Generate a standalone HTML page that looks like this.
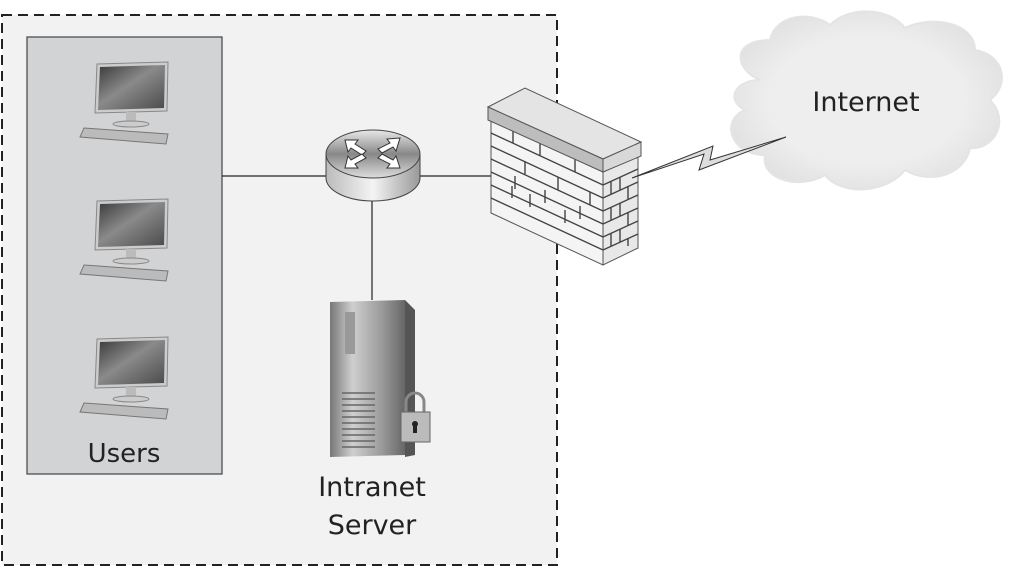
<!DOCTYPE html>
<html><head><meta charset="utf-8"><style>
body{margin:0;background:#fff}
svg{display:block}
text{font-family:"DejaVu Sans","Liberation Sans",sans-serif;fill:#222}
</style></head><body>
<svg width="1023" height="568" viewBox="0 0 1023 568" xmlns="http://www.w3.org/2000/svg">
<defs>
<linearGradient id="scr" x1="0" y1="0" x2="1" y2="1"><stop offset="0" stop-color="#3a3a3a"/><stop offset="0.45" stop-color="#8a8a8a"/><stop offset="1" stop-color="#4a4a4a"/></linearGradient>
<linearGradient id="rt" x1="0" y1="0" x2="1" y2="0"><stop offset="0" stop-color="#bbb"/><stop offset="0.5" stop-color="#f4f4f4"/><stop offset="1" stop-color="#999"/></linearGradient>
<linearGradient id="rtop" x1="0" y1="0" x2="0" y2="1"><stop offset="0" stop-color="#e8e8e8"/><stop offset="0.5" stop-color="#888"/><stop offset="1" stop-color="#ddd"/></linearGradient>
<linearGradient id="srv" x1="0" y1="0" x2="1" y2="0"><stop offset="0" stop-color="#777"/><stop offset="0.3" stop-color="#cfcfcf"/><stop offset="0.7" stop-color="#999"/><stop offset="1" stop-color="#666"/></linearGradient>
<radialGradient id="cl" cx="0.5" cy="0.5" r="0.6"><stop offset="0.6" stop-color="#eee"/><stop offset="1" stop-color="#ddd"/></radialGradient>
<g id="pc">
<polygon points="97,64 168,62 167,111 95,113" fill="#ccc" stroke="#888"/>
<polygon points="100,67 165,65 164,108 98,110" fill="url(#scr)"/>
<rect x="126" y="112" width="10" height="11" fill="#bbb"/>
<ellipse cx="131" cy="124" rx="18" ry="3" fill="#ccc" stroke="#888"/>
<polygon points="84,128 168,134 166,144 80,137" fill="#bbb" stroke="#777"/>
</g>
</defs>
<rect x="2" y="15" width="555" height="550" fill="#f2f2f3" stroke="#222" stroke-width="2" stroke-dasharray="10,6"/>
<rect x="27" y="37" width="195" height="437" fill="#d2d3d5" stroke="#444" stroke-width="1.2"/>
<use href="#pc"/>
<use href="#pc" y="137"/>
<use href="#pc" y="275"/>
<text x="124" y="462" font-size="26" text-anchor="middle">Users</text>
<line x1="222" y1="176" x2="330" y2="176" stroke="#222" stroke-width="1.2"/>
<line x1="418" y1="176" x2="492" y2="176" stroke="#222" stroke-width="1.2"/>
<line x1="372" y1="200" x2="372" y2="300" stroke="#222" stroke-width="1.2"/>
<!-- router -->
<path d="M326,155 L326,178 A47,23 0 0 0 420,178 L420,155 Z" fill="url(#rt)" stroke="#444"/>
<ellipse cx="373" cy="154" rx="47" ry="24" fill="url(#rtop)" stroke="#444"/>
<g fill="#fff" stroke="#333" stroke-width="1">
<polygon points="345,140 358,140 355,144 366,151 362,155 351,148 348,152"/>
<polygon points="400,138 387,139 390,143 378,149 382,153 393,147 396,151"/>
<polygon points="345,168 358,168 355,164 366,158 362,154 351,160 348,156"/>
<polygon points="400,168 387,168 390,164 378,158 382,154 393,160 396,156"/>
</g>
<!-- firewall -->
<polygon points="491,120 603,172 603,265 491,213" fill="#f4f4f4" stroke="#555"/>
<polygon points="603,172 638,156 638,248 603,265" fill="#e8e8e8" stroke="#555"/>
<g stroke="#444" stroke-width="1.4" fill="none">
<path d="M491,133 L603,185 M491,146 L603,198 M491,159 L603,211 M491,172 L603,224 M491,185 L603,237 M491,198 L603,250"/>
<path d="M603,185 L638,169 M603,198 L638,182 M603,211 L638,195 M603,224 L638,208 M603,237 L638,221 M603,250 L638,234"/>
<path d="M513,130 v13 M540,143 v13 M575,159 v13 M525,161 v13 M558,177 v13 M590,192 v13 M515,176 v13 M545,190 v13 M580,206 v13 M530,194 v13 M565,210 v13 M512,186 v12 M620,177 v13 M620,203 v13 M620,229 v13 M611,181 v13 M628,186 v13 M611,207 v13 M628,212 v13 M611,233 v13 M628,238 v8"/>
</g>
<polygon points="488,107 525,88 641,142 603,159" fill="#e4e4e4" stroke="#555"/>
<polygon points="488,107 603,159 603,172 488,120" fill="#bdbdbd" stroke="#555"/>
<polygon points="603,159 641,142 641,156 603,172" fill="#d8d8d8" stroke="#555"/>
<!-- server -->
<polygon points="330,302 405,300 405,455 330,457" fill="url(#srv)"/>
<polygon points="405,300 415,310 415,455 405,457" fill="#555"/>
<rect x="345" y="312" width="10" height="42" fill="#999"/>
<g stroke="#666" stroke-width="1.5"><path d="M342,393 H375 M342,399 H375 M342,405 H375 M342,411 H375 M342,417 H375 M342,423 H375 M342,429 H375 M342,435 H375 M342,441 H375 M342,447 H375"/></g>
<path d="M406,412 v-10 a9,9 0 0 1 18,0 v10" fill="none" stroke="#888" stroke-width="3"/>
<rect x="401" y="412" width="29" height="30" fill="#bbb" stroke="#666"/>
<circle cx="415" cy="424" r="3" fill="#222"/><rect x="413" y="425" width="4" height="8" fill="#222"/>
<text x="372" y="496" font-size="27" text-anchor="middle">Intranet</text>
<text x="372" y="534" font-size="27" text-anchor="middle">Server</text>
<!-- cloud -->
<path d="M760,80 C735,70 730,40 770,40 C775,15 810,10 830,25 C850,5 890,8 905,28 C930,15 975,22 975,50 C1005,55 1010,85 990,100 C1010,120 995,150 970,148 C965,175 930,185 905,170 C885,195 840,195 825,175 C800,190 760,180 765,155 C730,155 720,120 745,110 C725,100 735,80 760,80 Z" fill="url(#cl)" stroke="#e4e4e4" stroke-width="2"/>
<text x="866" y="111" font-size="27" text-anchor="middle">Internet</text>
<!-- lightning -->
<polygon points="632,178 704,154 699,170 786,137 710,160 713,146" fill="#ddd" stroke="#333" stroke-width="1"/>
</svg>
</body></html>
